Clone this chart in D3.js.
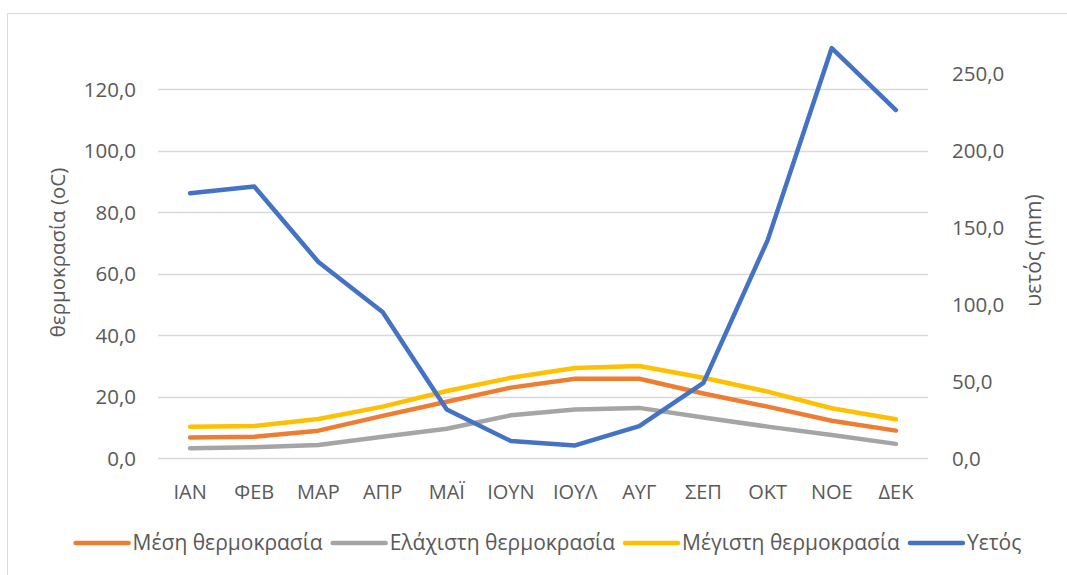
<!DOCTYPE html>
<html>
<head>
<meta charset="utf-8">
<script src="https://cdn.jsdelivr.net/npm/d3@7"></script>
<style>
  body { margin: 0; background: #fff; }
  text { font-family: "Open Sans", sans-serif; fill: #595959; }
</style>
</head>
<body>
<div id="chart"></div>
<script>
const months = ["ΙΑΝ", "ΦΕΒ", "ΜΑΡ", "ΑΠΡ", "ΜΑΪ", "ΙΟΥΝ", "ΙΟΥΛ", "ΑΥΓ", "ΣΕΠ", "ΟΚΤ", "ΝΟΕ", "ΔΕΚ"];
const meanTemp = [6.7, 6.9, 8.9, 13.7, 18.3, 22.9, 25.8, 25.8, 21.0, 16.7, 12.1, 8.9];
const minTemp = [3.2, 3.5, 4.2, 6.9, 9.5, 13.9, 15.8, 16.3, 13.2, 10.2, 7.5, 4.6];
const maxTemp = [10.2, 10.4, 12.7, 16.7, 21.8, 26.1, 29.3, 29.9, 26.1, 21.6, 16.2, 12.6];
const rain = [172.3, 176.6, 127.5, 95.0, 31.6, 11.0, 8.2, 20.8, 48.9, 141.6, 266.7, 226.4];
const leftTicks = [0, 20, 40, 60, 80, 100, 120];
const rightTicks = [0, 50, 100, 150, 200, 250];

const series = [
    {name: "Μέση θερμοκρασία", values: meanTemp, color: "#ED7D31", axis: "left"},
    {name: "Ελάχιστη θερμοκρασία", values: minTemp, color: "#A5A5A5", axis: "left"},
    {name: "Μέγιστη θερμοκρασία", values: maxTemp, color: "#FFC000", axis: "left"},
    {name: "Υετός", values: rain, color: "#4472C4", axis: "right"}
];

const width = 1067, height = 575;
const plot = {left: 158, right: 928, top: 43, bottom: 458};

const svg = d3.select("#chart").append("svg")
    .attr("width", width)
    .attr("height", height);

// chart frame
svg.append("rect")
    .attr("x", 7.5).attr("y", 13.5)
    .attr("width", width).attr("height", height)
    .attr("fill", "#fff")
    .attr("stroke", "#d9d9d9");

const x = d3.scaleBand().domain(months).range([plot.left, plot.right]);
const yLeft = d3.scaleLinear().domain([0, 135]).range([plot.bottom, plot.top]);
const yRight = d3.scaleLinear().domain([0, 270]).range([plot.bottom, plot.top]);
const fmt = v => d3.format(".1f")(v).replace(".", ",");

// gridlines
svg.append("g")
    .selectAll("line")
    .data(leftTicks)
    .join("line")
    .attr("x1", plot.left).attr("x2", plot.right)
    .attr("y1", d => Math.round(yLeft(d)) + 0.5)
    .attr("y2", d => Math.round(yLeft(d)) + 0.5)
    .attr("stroke", "#d9d9d9")
    .attr("stroke-width", 1.3);

// left axis
const gl = svg.append("g")
    .attr("transform", `translate(${plot.left - 22},0)`)
    .call(d3.axisLeft(yLeft).tickValues(leftTicks).tickFormat(fmt).tickSize(0).tickPadding(0));
gl.select(".domain").remove();
gl.selectAll("text").style("font-size", "20.5px").attr("fill", "#595959").attr("dy", "0.35em");

// right axis
const gr = svg.append("g")
    .attr("transform", `translate(${plot.right + 24},0)`)
    .call(d3.axisRight(yRight).tickValues(rightTicks).tickFormat(fmt).tickSize(0).tickPadding(0));
gr.select(".domain").remove();
gr.selectAll("text").style("font-size", "20.5px").attr("fill", "#595959").attr("dy", "0.35em");

// x axis labels
const gx = svg.append("g")
    .attr("transform", `translate(0,${plot.bottom + 34})`)
    .call(d3.axisBottom(x).tickSize(0).tickPadding(0));
gx.select(".domain").remove();
gx.selectAll("text").style("font-size", "20px").attr("fill", "#595959").attr("dy", "0.35em");

// axis titles
svg.append("text")
    .attr("transform", `translate(58,${(plot.top + plot.bottom) / 2 + 2}) rotate(-90)`)
    .attr("text-anchor", "middle")
    .attr("dy", "0.35em")
    .style("font-size", "20.5px")
    .text("θερμοκρασία (oC)");

svg.append("text")
    .attr("transform", `translate(1034,${(plot.top + plot.bottom) / 2}) rotate(-90)`)
    .attr("text-anchor", "middle")
    .attr("dy", "0.35em")
    .style("font-size", "21px")
    .text("υετός (mm)");

// lines
const cx = m => x(m) + x.bandwidth() / 2;
series.forEach(s => {
    const yScale = s.axis === "left" ? yLeft : yRight;
    const line = d3.line()
        .x((d, i) => cx(months[i]))
        .y(d => yScale(d));
    svg.append("path")
        .datum(s.values)
        .attr("d", line)
        .attr("fill", "none")
        .attr("stroke", s.color)
        .attr("stroke-width", 4.5)
        .attr("stroke-linecap", "round")
        .attr("stroke-linejoin", "round");
});

// legend
const legend = svg.append("g").attr("class", "legend");
let offset = 0;
series.forEach(s => {
    const item = legend.append("g").attr("transform", `translate(${offset},0)`);
    item.append("line")
        .attr("x1", 0).attr("x2", 53)
        .attr("stroke", s.color)
        .attr("stroke-width", 4.5)
        .attr("stroke-linecap", "round");
    const t = item.append("text")
        .attr("x", 57)
        .attr("dy", "0.35em")
        .style("font-size", "21px")
        .text(s.name);
    offset += 57 + t.node().getComputedTextLength() + 10;
});
const legendWidth = offset - 10;
legend.attr("transform", `translate(${(72 + 1025) / 2 - legendWidth / 2},543)`);
</script>
</body>
</html>
